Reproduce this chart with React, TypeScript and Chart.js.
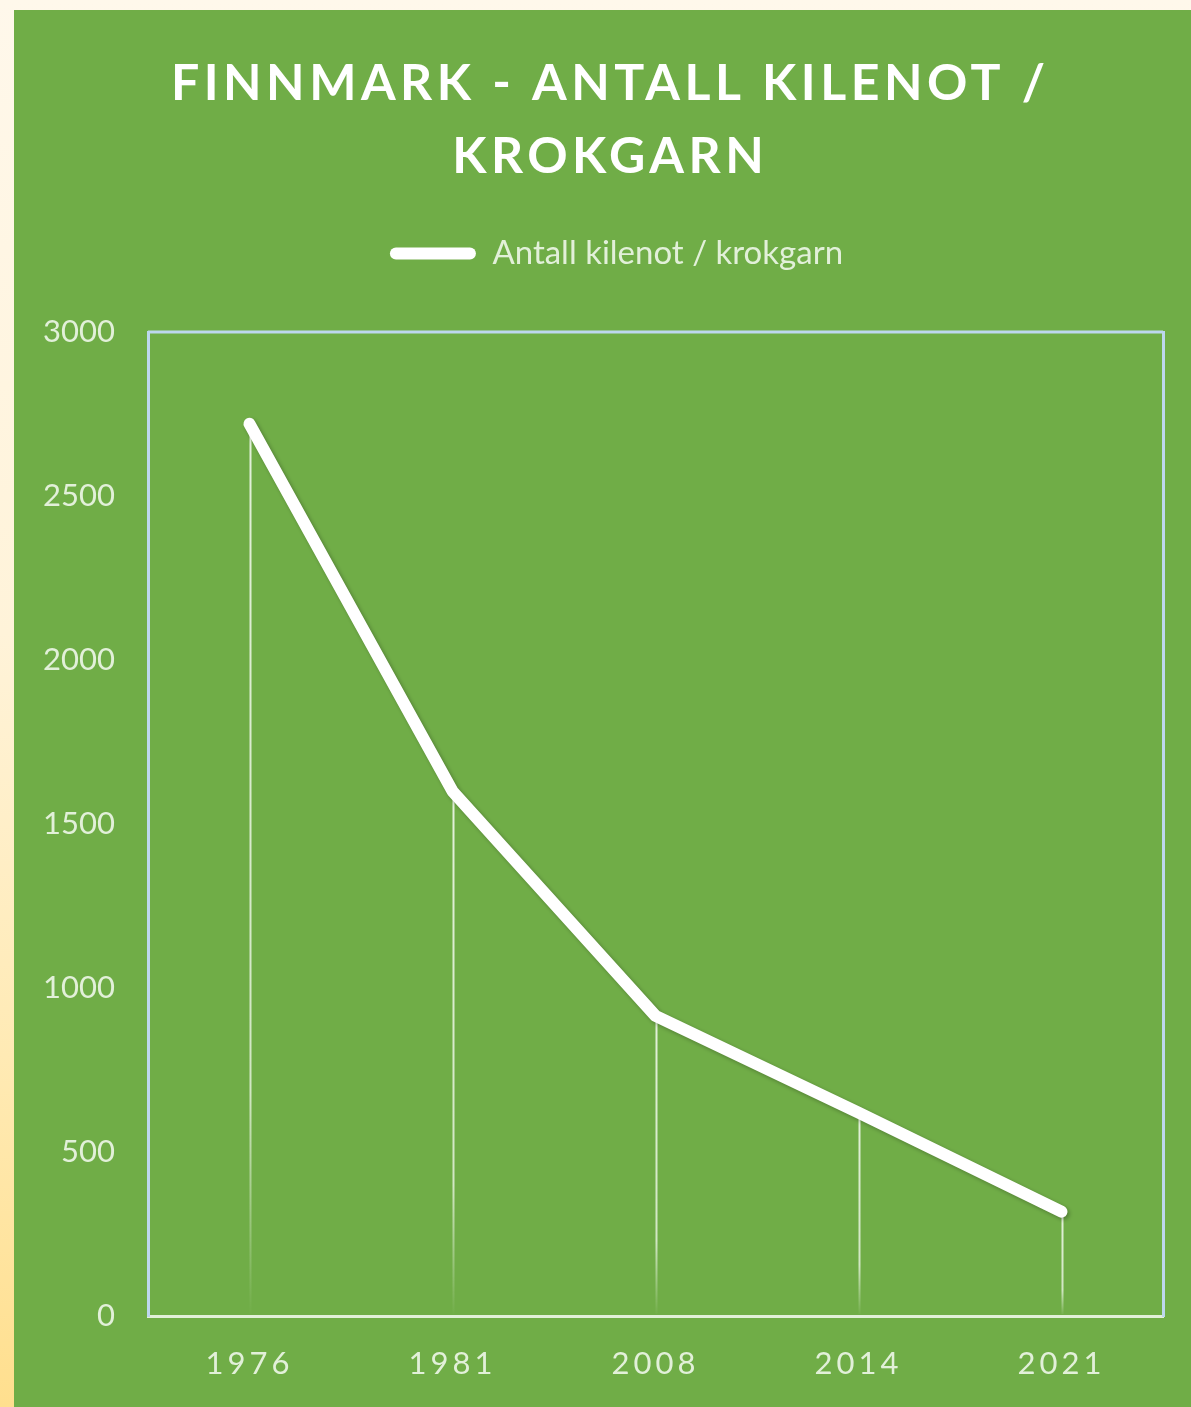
import React, { useEffect, useRef } from "react";
import { Chart, registerables } from "chart.js";

Chart.register(...registerables);

const years: string[] = ["1976", "1981", "2008", "2014", "2021"];
const antall: number[] = [2720, 1600, 915, 620, 318];
const titleLines: string[] = ["FINNMARK - ANTALL KILENOT /", "KROKGARN"];
const seriesLabel = "Antall kilenot / krokgarn";
const yMax = 3000;
const yStep = 500;

const GREEN = "#70AD47";
const PALE = "#E2F0D9";
const BLUE = "#BDD7EE";
const FONT = "Lato";

const CANVAS_W = 1177;
const CANVAS_H = 1397;

const decorPlugin = {
  id: "decor",
  beforeDraw(chart: any) {
    chart.ctx.letterSpacing = "0px";
  },
  beforeDatasetsDraw(chart: any) {
    const { ctx, chartArea } = chart;
    ctx.save();
    ctx.strokeStyle = BLUE;
    ctx.lineWidth = 3;
    ctx.beginPath();
    ctx.moveTo(chartArea.left, chartArea.top);
    ctx.lineTo(chartArea.right, chartArea.top);
    ctx.stroke();
    const meta = chart.getDatasetMeta(0);
    const yScale = chart.scales.y;
    const base = yScale.getPixelForValue(0);
    meta.data.forEach((pt: any) => {
      const x = Math.round(pt.x) + 0.5;
      const grad = ctx.createLinearGradient(0, pt.y, 0, base);
      grad.addColorStop(0, "rgba(226,240,217,1)");
      grad.addColorStop(0.75, "rgba(226,240,217,0.85)");
      grad.addColorStop(1, "rgba(226,240,217,0)");
      ctx.strokeStyle = grad;
      ctx.lineWidth = 2;
      ctx.beginPath();
      ctx.moveTo(x, pt.y);
      ctx.lineTo(x, base - 2);
      ctx.stroke();
    });
    ctx.restore();
  },
  beforeDatasetDraw(chart: any) {
    const ctx = chart.ctx;
    ctx.shadowColor = "rgba(0,0,0,0.28)";
    ctx.shadowBlur = 4;
    ctx.shadowOffsetX = 2;
    ctx.shadowOffsetY = 2;
  },
  afterDatasetDraw(chart: any) {
    const ctx = chart.ctx;
    ctx.shadowColor = "rgba(0,0,0,0)";
    ctx.shadowBlur = 0;
    ctx.shadowOffsetX = 0;
    ctx.shadowOffsetY = 0;
  },
  afterDatasetsDraw(chart: any) {
    chart.ctx.letterSpacing = "4px";
  },
  afterDraw(chart: any) {
    const ctx = chart.ctx;
    ctx.save();
    const sp = 4.5;
    ctx.letterSpacing = sp + "px";
    ctx.font = `bold 50px ${FONT}`;
    ctx.fillStyle = "#FFFFFF";
    ctx.textAlign = "center";
    ctx.textBaseline = "alphabetic";
    const cx = 594 + sp / 2;
    ctx.fillText(titleLines[0], cx, 90);
    ctx.fillText(titleLines[1], cx, 163);
    ctx.restore();
    ctx.letterSpacing = "0px";
  },
};

export default function App() {
  const ref = useRef<HTMLCanvasElement | null>(null);

  useEffect(() => {
    document.body.style.margin = "0";
    const canvas = ref.current;
    if (!canvas) return;
    const chart = new Chart(canvas, {
      type: "line",
      data: {
        labels: years,
        datasets: [
          {
            label: seriesLabel,
            data: antall,
            borderColor: "#FFFFFF",
            backgroundColor: "#FFFFFF",
            borderWidth: 12,
            borderCapStyle: "round",
            borderJoinStyle: "round",
            pointRadius: 0,
            pointHoverRadius: 0,
            tension: 0,
            clip: false,
            xAxisID: "x",
            yAxisID: "y",
          } as any,
        ],
      },
      options: {
        responsive: false,
        animation: false,
        devicePixelRatio: 1,
        layout: { padding: { top: 217, left: 28, right: 0, bottom: 0 } },
        plugins: {
          title: { display: false },
          tooltip: { enabled: false },
          legend: {
            display: true,
            position: "top",
            labels: {
              color: PALE,
              font: { family: FONT, size: 33 },
              boxWidth: 86,
              boxHeight: 12,
              useBorderRadius: true,
              borderRadius: 6,
              padding: 10,
              generateLabels: () => [
                {
                  text: seriesLabel,
                  fillStyle: "#FFFFFF",
                  strokeStyle: "#FFFFFF",
                  fontColor: PALE,
                  lineWidth: 0,
                  hidden: false,
                  datasetIndex: 0,
                  borderRadius: 6,
                } as any,
              ],
            },
          },
        },
        scales: {
          x: {
            type: "category",
            position: "bottom",
            offset: true,
            grid: { display: false, drawTicks: false, offset: true },
            border: { display: true, color: PALE, width: 3 },
            ticks: {
              color: PALE,
              font: { family: FONT, size: 31 },
              padding: 29,
              maxRotation: 0,
              z: 1,
            },
            afterFit: (s: any) => {
              s.height = 91;
            },
          },
          xTop: {
            type: "category",
            position: "top",
            display: true,
            grid: { display: false, drawTicks: false },
            border: { display: false },
            ticks: { display: false },
            afterFit: (s: any) => {
              s.height = 52;
            },
          },
          y: {
            type: "linear",
            position: "left",
            min: 0,
            max: yMax,
            grid: { display: false, drawTicks: false },
            border: { display: true, color: BLUE, width: 3 },
            ticks: {
              stepSize: yStep,
              color: PALE,
              font: { family: FONT, size: 31 },
              padding: 33,
              callback: (v: any) => String(v),
            },
            afterFit: (s: any) => {
              s.width = 106;
            },
          },
          yRight: {
            type: "linear",
            position: "right",
            display: true,
            min: 0,
            max: yMax,
            grid: { display: false, drawTicks: false },
            border: { display: true, color: BLUE, width: 3 },
            ticks: { display: false },
            afterFit: (s: any) => {
              s.width = 28;
            },
          },
        },
      },
      plugins: [decorPlugin],
    } as any);
    return () => chart.destroy();
  }, []);

  return (
    <div
      style={{
        position: "absolute",
        left: 0,
        top: 0,
        width: 1191,
        height: 1407,
        overflow: "hidden",
        background:
          "linear-gradient(to bottom, #FFF8EB 0%, #FFF3D9 45%, #FFEAB4 75%, #FFDF8E 100%)",
      }}
    >
      <canvas
        ref={ref}
        width={CANVAS_W}
        height={CANVAS_H}
        style={{
          position: "absolute",
          left: 14,
          top: 10,
          width: CANVAS_W,
          height: CANVAS_H,
          background: GREEN,
          display: "block",
        }}
      />
    </div>
  );
}
